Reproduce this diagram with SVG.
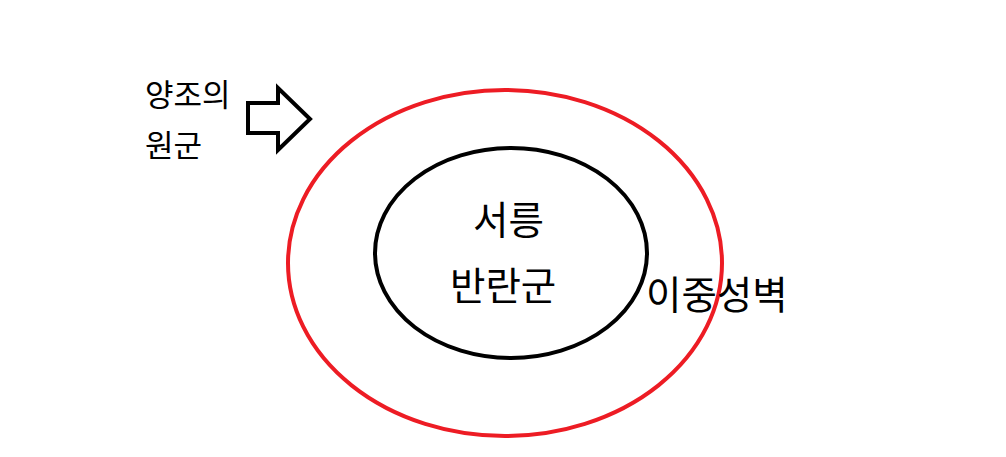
<svg xmlns="http://www.w3.org/2000/svg" width="1006" height="457" viewBox="0 0 1006 457">
<style>
.t{font-family:"Noto Sans CJK KR","Noto Sans",sans-serif;fill:#000}
.s{font-size:31px}
.l{font-size:38.5px}
</style>
<rect width="1006" height="457" fill="#fff"/>
<g id="connectors">
<path id="arrow" d="M248,103 L278,103 L278,88 L310,119 L278,150 L278,133 L248,133 Z" fill="none" stroke="#000" stroke-width="4" stroke-linejoin="miter"/>
</g>
<g id="outer-wall">
<ellipse cx="505" cy="263" rx="217" ry="173" fill="none" stroke="#ED1C24" stroke-width="4"/>
<text class="t l" x="646" y="309">이중성벽</text>
</g>
<g id="rebels">
<ellipse cx="511" cy="253" rx="136" ry="105" fill="none" stroke="#000" stroke-width="4"/>
<text class="t l" x="473" y="234">서릉</text>
<text class="t l" x="450" y="300">반란군</text>
</g>
<g id="reinforcement">
<text class="t s" x="145" y="106">양조의</text>
<text class="t s" x="145" y="157">원군</text>
</g>
</svg>
